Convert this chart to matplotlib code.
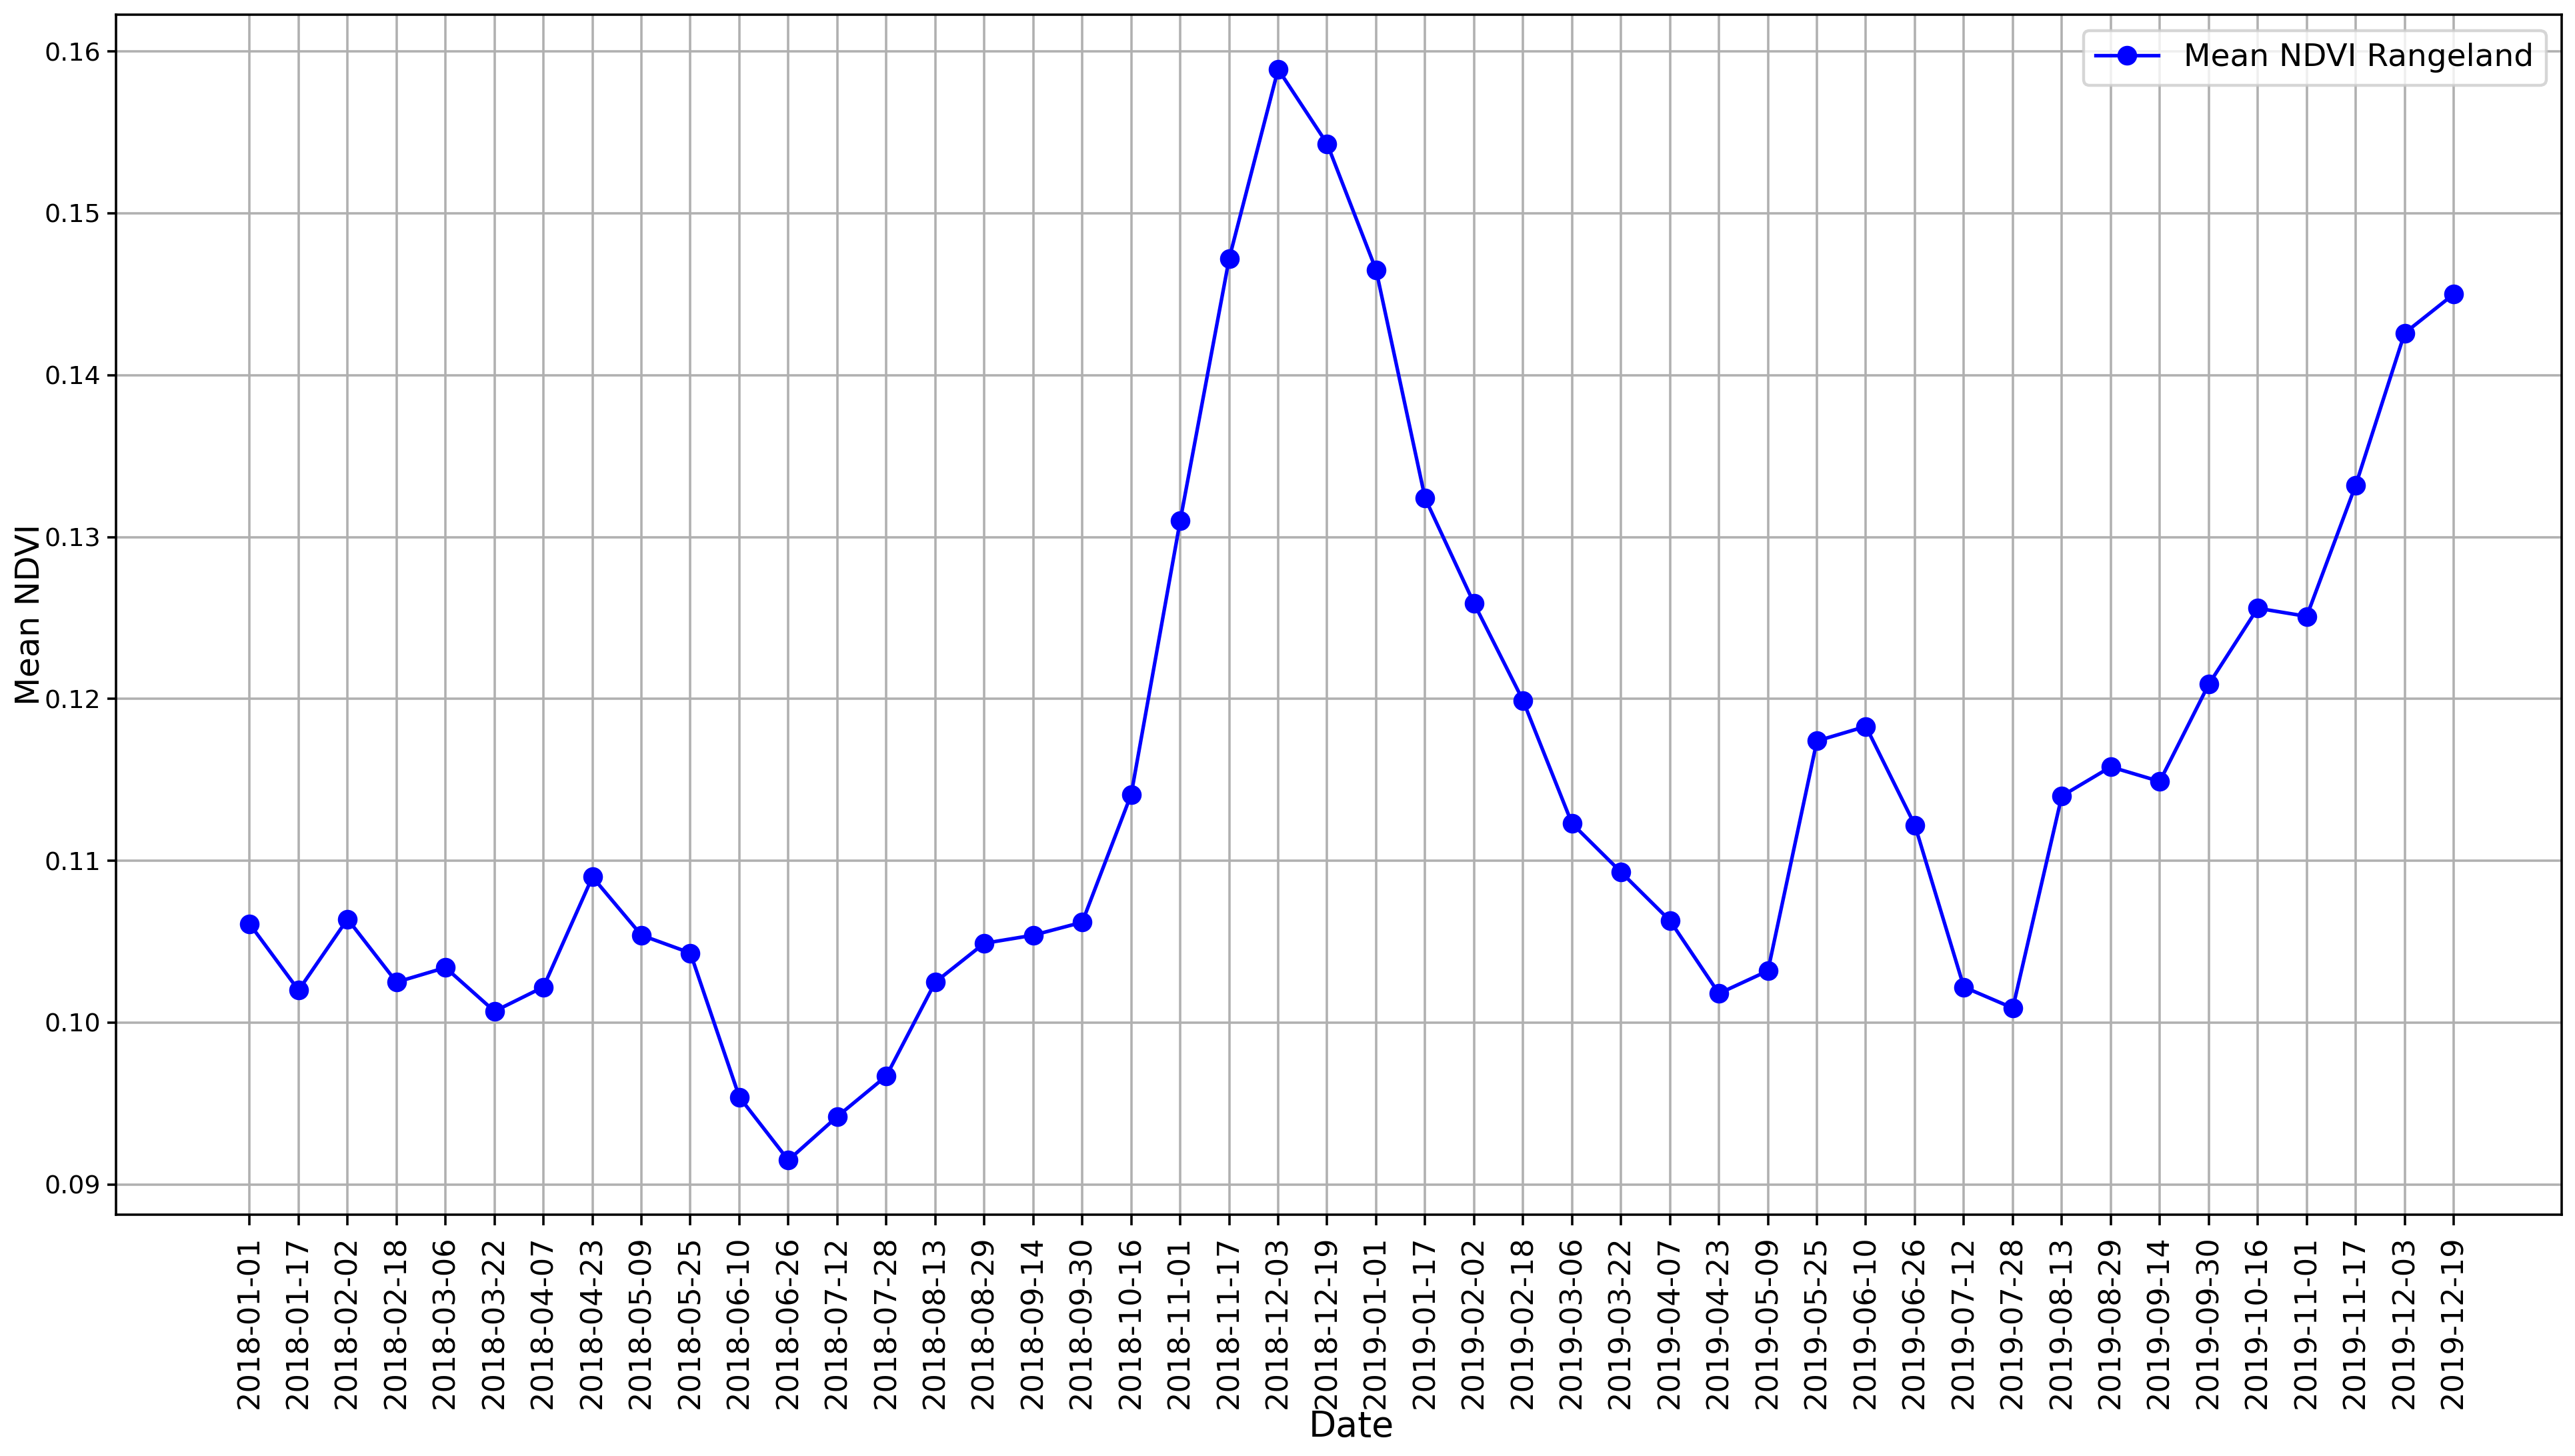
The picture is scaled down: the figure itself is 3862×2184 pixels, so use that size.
import numpy as np
import matplotlib.pyplot as plt

# tanggal pengamatan (interval 16 hari)
dates = ['2018-01-01', '2018-01-17', '2018-02-02', '2018-02-18', '2018-03-06', '2018-03-22',
         '2018-04-07', '2018-04-23', '2018-05-09', '2018-05-25', '2018-06-10', '2018-06-26',
         '2018-07-12', '2018-07-28', '2018-08-13', '2018-08-29', '2018-09-14', '2018-09-30',
         '2018-10-16', '2018-11-01', '2018-11-17', '2018-12-03', '2018-12-19', '2019-01-01',
         '2019-01-17', '2019-02-02', '2019-02-18', '2019-03-06', '2019-03-22', '2019-04-07',
         '2019-04-23', '2019-05-09', '2019-05-25', '2019-06-10', '2019-06-26', '2019-07-12',
         '2019-07-28', '2019-08-13', '2019-08-29', '2019-09-14', '2019-09-30', '2019-10-16',
         '2019-11-01', '2019-11-17', '2019-12-03', '2019-12-19']

# rata-rata NDVI rangeland
ndvi = [0.1061, 0.1020, 0.1064, 0.1025, 0.1034, 0.1007, 0.1022, 0.1090, 0.1054, 0.1043,
        0.0954, 0.0915, 0.0942, 0.0967, 0.1025, 0.1049, 0.1054, 0.1062, 0.1141, 0.1310,
        0.1472, 0.1589, 0.1543, 0.1465, 0.1324, 0.1259, 0.1199, 0.1123, 0.1093, 0.1063,
        0.1018, 0.1032, 0.1174, 0.1183, 0.1122, 0.1022, 0.1009, 0.1140, 0.1158, 0.1149,
        0.1209, 0.1256, 0.1251, 0.1332, 0.1426, 0.1450]

x = np.arange(len(dates))

fig = plt.figure(figsize=(3862 / 322, 2184 / 322), dpi=322)
ax = fig.add_axes([0.045, 0.1657, 0.9499, 0.8242])
ax.plot(x, ndvi, marker='o', color='blue', markersize=5.6, linewidth=1.2,
        label='Mean NDVI Rangeland')
ax.set_xticks(x)
ax.set_xticklabels(dates, rotation=90)
ax.set_xlim(-2.73, 47.21)
ax.tick_params(axis='y', labelsize=8.5, pad=2, length=3)
ax.set_xlabel('Date', fontsize=12)
ax.set_ylabel('Mean NDVI', fontsize=11)
ax.xaxis.set_label_coords(0.505, -0.162)
ax.yaxis.set_label_coords(-0.0286, 0.5)
ax.grid(True)
ax.legend(loc='upper right', fontsize=10.5)

fig.savefig('out.png', dpi=322)
